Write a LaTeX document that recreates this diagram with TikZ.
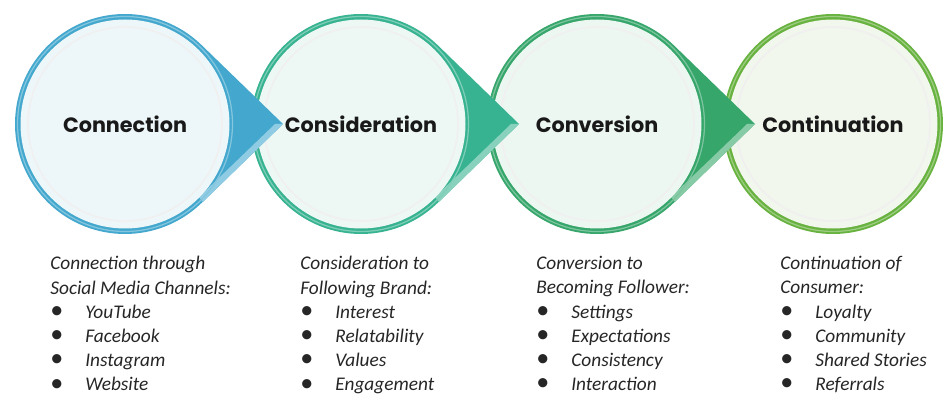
\documentclass[tikz,border=0pt]{standalone}
\usepackage{fontspec}
\setmainfont{Carlito}
\newfontfamily\headfont{Poppins}

\definecolor{ringA}{HTML}{44A8CE}
\definecolor{ringB}{HTML}{38B391}
\definecolor{ringC}{HTML}{36A66B}
\definecolor{ringD}{HTML}{68B240}
\definecolor{fillA}{HTML}{EDF7FA}
\definecolor{fillB}{HTML}{EDF8F5}
\definecolor{fillC}{HTML}{EDF7F1}
\definecolor{fillD}{HTML}{F1F7EC}

\newcommand{\itm}[1]{\makebox[0.7cm][l]{\upshape\scalebox{1.35}{\textbullet}}#1}

\begin{document}
\begin{tikzpicture}[x=0.02cm,y=0.02cm,
    title/.style={font=\headfont\bfseries\fontsize{11.8}{14}\selectfont,text=black!90},
    caption/.style={anchor=north west,inner sep=0pt,align=left,text=black!85,
      font=\itshape\fontsize{11}{13.8}\selectfont}]
  \useasboundingbox (0,0) rectangle (948,396);

  % right to left, so every pointer lies over the next circle
  \foreach \i/\x/\c/\t in {4/833/D/Continuation,3/597/C/Conversion,2/361/B/Consideration,1/125/A/Connection}{
    \ifnum\i<4
      \fill[ring\c] (\x,272) ++(46:110) arc[start angle=46,end angle=314,radius=110]
        -- (\x+158,272) -- cycle;
      \fill[ring\c!60!white] (\x+158,272) -- (\x+78,194) -- (\x+74,199) -- (\x+150,272) -- cycle;
    \else
      \fill[ring\c] (\x,272) circle[radius=110];
    \fi
    \draw[ring\c!65!white, line width=0.7] (\x,272) circle[radius=107.5];
    \fill[fill\c] (\x,272) circle[radius=104.5];
    \draw[black!6, line width=1] (\x,272) circle[radius=97];
    \node[title] (s\i) at (\x,272) {\t};
  }

  \node[caption] (cap1) at (50,140) {Connection through\\Social Media Channels:\\
    \itm{YouTube}\\\itm{Facebook}\\\itm{Instagram}\\\itm{Website}};
  \node[caption] (cap2) at (300,140) {Consideration to\\Following Brand:\\
    \itm{Interest}\\\itm{Relatability}\\\itm{Values}\\\itm{Engagement}};
  \node[caption] (cap3) at (536,140) {Conversion to\\Becoming Follower:\\
    \itm{Settings}\\\itm{Expectations}\\\itm{Consistency}\\\itm{Interaction}};
  \node[caption] (cap4) at (780,140) {Continuation of\\Consumer:\\
    \itm{Loyalty}\\\itm{Community}\\\itm{Shared Stories}\\\itm{Referrals}};
\end{tikzpicture}
\end{document}
